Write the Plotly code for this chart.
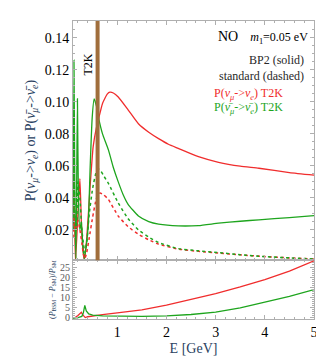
import plotly.graph_objects as go
from plotly.subplots import make_subplots

# energies (GeV) and probabilities
e_red = [0.10, 0.115, 0.13, 0.15, 0.20, 0.24, 0.27, 0.30, 0.33, 0.38, 0.45, 0.51, 0.57, 0.61,
         0.70, 0.80, 0.85, 0.92, 1.02, 1.22, 1.43, 1.64, 1.84, 2.04, 2.24, 2.65, 3.06, 3.5,
         3.88, 4.5, 5.0]
p_red_bp2 = [0.02, 0.085, 0.03, 0.0, 0.03, 0.052, 0.025, 0.008, 0.001, 0.015, 0.048, 0.072,
             0.083, 0.088, 0.099, 0.105, 0.106, 0.1055, 0.103, 0.095, 0.0863, 0.081, 0.077,
             0.0735, 0.0709, 0.0657, 0.0622, 0.0598, 0.0585, 0.0558, 0.0542]

e_green = [0.10, 0.12, 0.14, 0.16, 0.19, 0.21, 0.24, 0.27, 0.30, 0.33, 0.37, 0.41, 0.45, 0.49,
           0.53, 0.58, 0.62, 0.70, 0.82, 0.92, 1.02, 1.12, 1.22, 1.43, 1.64, 1.84, 2.24, 2.65,
           3.06, 3.5, 3.88, 4.5, 5.0]
p_green_bp2 = [0.02, 0.126, 0.03, 0.002, 0.102, 0.04, 0.02, 0.025, 0.01, 0.002, 0.01, 0.023,
               0.06, 0.09, 0.1018, 0.097, 0.09, 0.08, 0.07, 0.059, 0.05, 0.042, 0.036, 0.0287,
               0.0252, 0.0236, 0.0225, 0.0227, 0.0242, 0.0254, 0.0263, 0.0277, 0.0289]

e_std = [0.10, 0.12, 0.14, 0.17, 0.20, 0.24, 0.28, 0.31, 0.34, 0.38, 0.43, 0.50, 0.57, 0.61,
         0.65, 0.72, 0.82, 1.02, 1.22, 1.43, 1.64, 1.84, 2.24, 2.65, 3.06, 3.5, 4.0, 4.5, 5.0]
p_red_std = [0.015, 0.028, 0.02, 0.022, 0.026, 0.02, 0.012, 0.005, 0.002, 0.006, 0.015, 0.028,
             0.039, 0.042, 0.043, 0.042, 0.039, 0.0286, 0.022, 0.0173, 0.0138, 0.0111, 0.008,
             0.0066, 0.0055, 0.0044, 0.0033, 0.0025, 0.0018]
p_green_std = [0.02, 0.06, 0.03, 0.02, 0.05, 0.04, 0.02, 0.012, 0.006, 0.012, 0.03, 0.046,
               0.056, 0.058, 0.0575, 0.054, 0.049, 0.0368, 0.027, 0.020, 0.0155, 0.0121,
               0.0083, 0.0069, 0.0058, 0.0045, 0.0033, 0.0025, 0.0018]

# relative difference (P_BSM - P_SM)/P_SM
e_ratio_red = [0.10, 0.15, 0.20, 0.27, 0.30, 0.35, 0.40, 0.50, 0.70, 1.0, 1.5, 2.0, 2.5, 3.0,
               3.5, 4.0, 4.5, 5.0]
r_red = [0.0, 0.3, 1.2, 2.8, 1.5, 0.2, 0.6, 1.0, 1.6, 2.5, 4.0, 6.3, 9.0, 12.0, 15.2, 18.8,
         23.0, 28.0]
e_ratio_green = [0.10, 0.20, 0.28, 0.31, 0.34, 0.37, 0.42, 0.50, 0.70, 1.0, 1.5, 2.0, 2.5,
                 3.0, 3.5, 4.0, 4.5, 5.0]
r_green = [0.0, 0.2, 0.8, 2.5, 6.2, 3.5, 2.0, 1.4, 1.0, 0.8, 0.8, 1.0, 1.7, 2.9, 5.0, 7.8,
           10.6, 13.9]

E_T2K = 0.6

RED = "rgb(240,45,45)"
GREEN = "rgb(30,165,30)"
BROWN = "rgb(160,110,60)"
FONT = "Liberation Serif, Times New Roman, serif"
AX = "rgb(175,175,175)"

fig = make_subplots(rows=2, cols=1, shared_xaxes=True, vertical_spacing=0,
                    row_heights=[0.803, 0.197])

solid = dict(mode="lines", line_shape="spline")
fig.add_trace(go.Scatter(x=e_red, y=p_red_bp2, line=dict(color=RED, width=1.3, smoothing=0.5),
                         **solid), row=1, col=1)
fig.add_trace(go.Scatter(x=e_green, y=p_green_bp2, line=dict(color=GREEN, width=1.3, smoothing=0.5),
                         **solid), row=1, col=1)
fig.add_trace(go.Scatter(x=e_std, y=p_red_std, line=dict(color=RED, width=1.5, dash="dot", smoothing=0.5),
                         **solid), row=1, col=1)
fig.add_trace(go.Scatter(x=e_std, y=p_green_std, line=dict(color=GREEN, width=1.5, dash="dot", smoothing=0.5),
                         **solid), row=1, col=1)

fig.add_trace(go.Scatter(x=e_ratio_red, y=r_red, mode="lines",
                         line=dict(color=RED, width=1.3)), row=2, col=1)
fig.add_trace(go.Scatter(x=e_ratio_green, y=r_green, mode="lines",
                         line=dict(color=GREEN, width=1.3)), row=2, col=1)

# T2K peak energy
fig.add_shape(type="line", x0=E_T2K, x1=E_T2K, y0=0, y1=1, xref="x", yref="y domain",
              line=dict(color=BROWN, width=4))
fig.add_annotation(x=E_T2K, y=0.123, xref="x", yref="y", text="T2K", textangle=-90,
                   showarrow=False, xanchor="right", xshift=-1,
                   font=dict(family=FONT, size=12, color="black"))

# legend-like labels
fig.add_annotation(x=0.985, y=0.98, xref="paper", yref="paper", xanchor="right", yanchor="top",
                   showarrow=False, align="right",
                   text="<span style='font-size:14px'>NO</span>    <i>m</i><sub>1</sub>=0.05 eV",
                   font=dict(family=FONT, size=12, color="black"))
fig.add_annotation(x=0.965, y=0.9, xref="paper", yref="paper", xanchor="right", yanchor="top",
                   showarrow=False, align="right",
                   text="BP2 (solid)<br>standard (dashed)",
                   font=dict(family=FONT, size=12, color="rgb(40,40,40)"))
fig.add_annotation(x=0.575, y=0.79, xref="paper", yref="paper", xanchor="left", yanchor="top",
                   showarrow=False, align="left",
                   text="P(<i>ν</i><sub><i>μ</i></sub>-><i>ν</i><sub><i>e</i></sub>) T2K",
                   font=dict(family=FONT, size=12, color=RED))
fig.add_annotation(x=0.575, y=0.742, xref="paper", yref="paper", xanchor="left", yanchor="top",
                   showarrow=False, align="left",
                   text="P(<i>ν̄</i><sub><i>μ</i></sub>-><i>ν̄</i><sub><i>e</i></sub>) T2K",
                   font=dict(family=FONT, size=12, color=GREEN))

axis_common = dict(showgrid=False, zeroline=False, showline=True, linecolor=AX, linewidth=1,
                   mirror="allticks", ticks="inside", ticklen=4, tickcolor=AX,
                   tickfont=dict(family=FONT, size=14, color="black"))

fig.update_xaxes(range=[0.1, 5], dtick=1, tick0=0,
                 minor=dict(ticks="inside", ticklen=2, dtick=0.2, tickcolor=AX), **axis_common)
fig.update_xaxes(showticklabels=False, row=1, col=1)
fig.update_xaxes(title=dict(text="E [GeV]", font=dict(family=FONT, size=14), standoff=4),
                 row=2, col=1)

fig.update_yaxes(range=[0.001, 0.1505], tickvals=[0.02, 0.04, 0.06, 0.08, 0.10, 0.12, 0.14],
                 ticktext=["0.02", "0.04", "0.06", "0.08", "0.10", "0.12", "0.14"],
                 minor=dict(ticks="inside", ticklen=2, dtick=0.005, tickcolor=AX),
                 title=dict(text="P(<i>ν</i><sub><i>μ</i></sub>-><i>ν</i><sub><i>e</i></sub>) or "
                                 "P(<i>ν̄</i><sub><i>μ</i></sub>-><i>ν̄</i><sub><i>e</i></sub>)",
                            font=dict(family=FONT, size=14), standoff=5),
                 row=1, col=1, **axis_common)
fig.update_yaxes(range=[-0.5, 28.3], dtick=5,
                 minor=dict(ticks="inside", ticklen=2, dtick=1, tickcolor=AX),
                 title=dict(text="(<i>P</i><sub>BSM</sub> − <i>P</i><sub>SM</sub>)/<i>P</i><sub>SM</sub>",
                            font=dict(family=FONT, size=8), standoff=3),
                 row=2, col=1, **axis_common)
fig.update_yaxes(tickfont=dict(family=FONT, size=10, color="rgb(90,90,90)"), row=2, col=1)

fig.update_layout(width=324, height=358, margin=dict(l=65, r=18, t=13, b=45),
                  font=dict(family=FONT), showlegend=False,
                  plot_bgcolor="white", paper_bgcolor="white")

fig.write_html("out.html")
